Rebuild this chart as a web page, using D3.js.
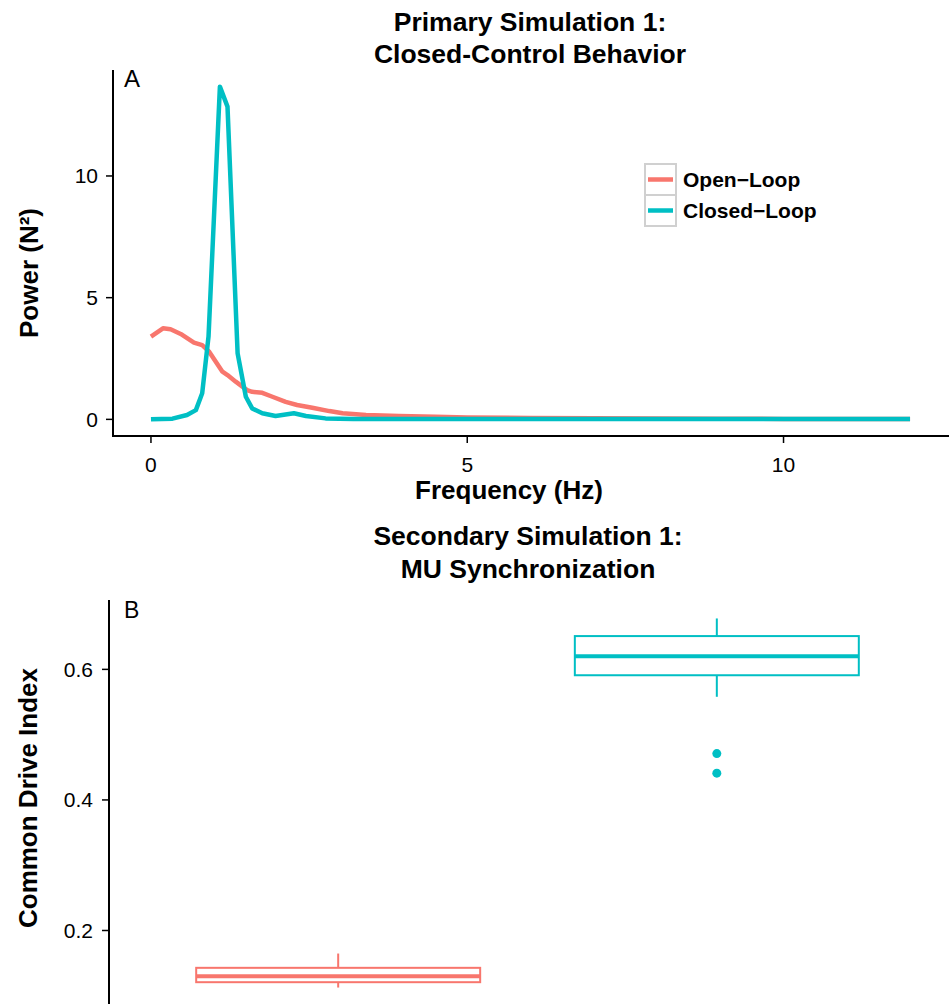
<!DOCTYPE html>
<html>
<head>
<meta charset="utf-8">
<script src="https://cdn.jsdelivr.net/npm/d3@7"></script>
<style>
	body { margin: 0; background: #fff; }
	svg { display: block; font-family: "Liberation Sans", Arial, Helvetica, sans-serif; }
</style>
</head>
<body>
<svg id="chart"></svg>
<script>
// panel A: power spectra (frequency in Hz, power in N^2)
const openFreq  = [0, 0.19, 0.31, 0.47, 0.68, 0.81, 0.92, 1.13, 1.21, 1.34, 1.52, 1.60, 1.76, 1.92, 2.13, 2.31, 2.55, 2.82, 3.03, 3.40, 3.92, 4.5, 5, 6, 7, 8, 9, 10, 11, 12];
const openPower = [3.40, 3.74, 3.70, 3.51, 3.15, 3.05, 2.78, 1.96, 1.82, 1.55, 1.20, 1.13, 1.09, 0.93, 0.72, 0.59, 0.48, 0.34, 0.25, 0.18, 0.14, 0.11, 0.08, 0.06, 0.05, 0.04, 0.03, 0.02, 0.02, 0.02];

const closedFreq  = [0, 0.34, 0.57, 0.71, 0.81, 0.91, 1.09, 1.21, 1.37, 1.50, 1.60, 1.76, 1.97, 2.26, 2.45, 2.76, 3.2, 4, 6, 8, 10, 12];
const closedPower = [0.00, 0.03, 0.18, 0.38, 1.07, 3.40, 13.67, 12.85, 2.71, 0.93, 0.45, 0.25, 0.14, 0.25, 0.14, 0.04, 0.02, 0.02, 0.01, 0.01, 0.01, 0.01];

const seriesNames = ["Open\u2212Loop", "Closed\u2212Loop"];
const seriesColors = ["#F8766D", "#00BFC4"];
const xTicksA = [0, 5, 10];
const yTicksA = [0, 5, 10];

// panel B: common drive index box plots
const groups     = ["Open-Loop", "Closed-Loop"];
const whiskerLow = [0.1126, 0.558];
const q1         = [0.1208, 0.591];
const median     = [0.1300, 0.620];
const q3         = [0.1428, 0.651];
const whiskerHigh= [0.1647, 0.678];
const outliers   = [[], [0.471, 0.441]];
const yTicksB = [0.2, 0.4, 0.6];

const width = 949, height = 1004;

const svg = d3.select("#chart")
	.attr("width", width)
	.attr("height", height);

// ggplot style 5% expansion
function expand(ext, f) {
	let pad = (ext[1] - ext[0]) * f;
	return [ext[0] - pad, ext[1] + pad];
}

// ---------- panel A ----------
const A = {"left": 113, "right": 948, "top": 70, "bottom": 436};

const xA = d3.scaleLinear()
	.domain(expand([0, 12], 0.05))
	.range([A.left, A.right]);

const yA = d3.scaleLinear()
	.domain(expand(d3.extent(openPower.concat(closedPower)), 0.05))
	.range([A.bottom, A.top]);

const seriesA = [
	openFreq.map((f, i) => ({f: f, p: openPower[i]})),
	closedFreq.map((f, i) => ({f: f, p: closedPower[i]}))
];

const line = d3.line()
	.x(d => xA(d.f))
	.y(d => yA(d.p));

svg.selectAll(".spec")
	.data(seriesA)
	.join("path")
	.attr("class", "spec")
	.attr("d", line)
	.attr("fill", "none")
	.attr("stroke", (d, i) => seriesColors[i])
	.attr("stroke-width", 4.5)
	.attr("stroke-linejoin", "round");

// axes drawn by hand to look like the ggplot classic theme
svg.append("line")
	.attr("x1", A.left).attr("x2", A.left)
	.attr("y1", A.top).attr("y2", A.bottom + 1)
	.attr("stroke", "#000").attr("stroke-width", 2);
svg.append("line")
	.attr("x1", A.left - 1).attr("x2", width)
	.attr("y1", A.bottom).attr("y2", A.bottom)
	.attr("stroke", "#000").attr("stroke-width", 2);

svg.selectAll(".ytickA")
	.data(yTicksA)
	.join("line")
	.attr("class", "ytickA")
	.attr("x1", A.left - 7).attr("x2", A.left)
	.attr("y1", d => yA(d)).attr("y2", d => yA(d))
	.attr("stroke", "#000").attr("stroke-width", 1.5);

svg.selectAll(".ylabA")
	.data(yTicksA)
	.join("text")
	.attr("class", "ylabA")
	.text(d => d)
	.attr("x", 98)
	.attr("y", d => yA(d) + 7.5)
	.attr("text-anchor", "end")
	.attr("font-size", 21);

svg.selectAll(".xtickA")
	.data(xTicksA)
	.join("line")
	.attr("class", "xtickA")
	.attr("x1", d => xA(d)).attr("x2", d => xA(d))
	.attr("y1", A.bottom).attr("y2", A.bottom + 7)
	.attr("stroke", "#000").attr("stroke-width", 1.5);

svg.selectAll(".xlabA")
	.data(xTicksA)
	.join("text")
	.attr("class", "xlabA")
	.text(d => d)
	.attr("x", d => xA(d))
	.attr("y", 472)
	.attr("text-anchor", "middle")
	.attr("font-size", 21);

svg.append("text")
	.text("Frequency (Hz)")
	.attr("x", 509).attr("y", 499)
	.attr("text-anchor", "middle")
	.attr("font-size", 26).attr("font-weight", "bold");

svg.append("text")
	.attr("transform", "translate(38, 273) rotate(-90)")
	.attr("text-anchor", "middle")
	.attr("font-size", 26).attr("font-weight", "bold")
	.text("Power (N\u00b2)");

svg.append("text").text("A")
	.attr("x", 124).attr("y", 87)
	.attr("font-size", 24);

svg.selectAll(".titleA")
	.data(["Primary Simulation 1:", "Closed-Control Behavior"])
	.join("text")
	.attr("class", "titleA")
	.text(d => d)
	.attr("x", 530)
	.attr("y", (d, i) => 31 + i * 32)
	.attr("text-anchor", "middle")
	.attr("font-size", 26.5).attr("font-weight", "bold");

// legend
const legend = svg.append("g").attr("transform", "translate(645, 164)");

legend.selectAll("rect")
	.data(seriesNames)
	.join("rect")
	.attr("x", 0).attr("y", (d, i) => i * 31)
	.attr("width", 31).attr("height", 31)
	.attr("fill", "#fff")
	.attr("stroke", "#d0d0d0").attr("stroke-width", 2);

legend.selectAll("line")
	.data(seriesNames)
	.join("line")
	.attr("x1", 3).attr("x2", 28)
	.attr("y1", (d, i) => i * 31 + 15.5).attr("y2", (d, i) => i * 31 + 15.5)
	.attr("stroke", (d, i) => seriesColors[i])
	.attr("stroke-width", 4.5);

legend.selectAll("text")
	.data(seriesNames)
	.join("text")
	.text(d => d)
	.attr("x", 38)
	.attr("y", (d, i) => i * 31 + 23)
	.attr("font-size", 21).attr("font-weight", "bold");

// ---------- panel B ----------
const B = {"left": 109, "right": 944, "top": 600, "bottom": 1006};

const xB = d3.scalePoint()
	.domain(groups)
	.range([B.left + 2, B.right])
	.padding(0.6);

const boxWidth = xB.step() * 0.75;

const yB = d3.scaleLinear()
	.domain(expand([d3.min(whiskerLow), d3.max(whiskerHigh)], 0.05))
	.range([B.bottom, B.top]);

const boxes = groups.map((g, i) => ({
	group: g, color: seriesColors[i],
	lo: whiskerLow[i], q1: q1[i], med: median[i], q3: q3[i], hi: whiskerHigh[i],
	out: outliers[i]
}));

const box = svg.selectAll(".box")
	.data(boxes)
	.join("g")
	.attr("class", "box");

box.append("line")
	.attr("x1", d => xB(d.group)).attr("x2", d => xB(d.group))
	.attr("y1", d => yB(d.hi)).attr("y2", d => yB(d.q3))
	.attr("stroke", d => d.color).attr("stroke-width", 2);

box.append("line")
	.attr("x1", d => xB(d.group)).attr("x2", d => xB(d.group))
	.attr("y1", d => yB(d.q1)).attr("y2", d => yB(d.lo))
	.attr("stroke", d => d.color).attr("stroke-width", 2);

box.append("rect")
	.attr("x", d => xB(d.group) - boxWidth / 2)
	.attr("y", d => yB(d.q3))
	.attr("width", boxWidth)
	.attr("height", d => yB(d.q1) - yB(d.q3))
	.attr("fill", "#fff")
	.attr("stroke", d => d.color).attr("stroke-width", 2);

box.append("line")
	.attr("x1", d => xB(d.group) - boxWidth / 2).attr("x2", d => xB(d.group) + boxWidth / 2)
	.attr("y1", d => yB(d.med)).attr("y2", d => yB(d.med))
	.attr("stroke", d => d.color).attr("stroke-width", 4);

box.selectAll(".outlier")
	.data(d => d.out.map(v => ({v: v, group: d.group, color: d.color})))
	.join("circle")
	.attr("class", "outlier")
	.attr("cx", d => xB(d.group))
	.attr("cy", d => yB(d.v))
	.attr("r", 4.5)
	.attr("fill", d => d.color);

svg.append("line")
	.attr("x1", B.left).attr("x2", B.left)
	.attr("y1", B.top).attr("y2", height)
	.attr("stroke", "#000").attr("stroke-width", 2);

svg.selectAll(".ytickB")
	.data(yTicksB)
	.join("line")
	.attr("class", "ytickB")
	.attr("x1", B.left - 7).attr("x2", B.left)
	.attr("y1", d => yB(d)).attr("y2", d => yB(d))
	.attr("stroke", "#000").attr("stroke-width", 1.5);

svg.selectAll(".ylabB")
	.data(yTicksB)
	.join("text")
	.attr("class", "ylabB")
	.text(d => d.toFixed(1))
	.attr("x", 93)
	.attr("y", d => yB(d) + 7.5)
	.attr("text-anchor", "end")
	.attr("font-size", 21);

svg.append("text")
	.attr("transform", "translate(37, 798) rotate(-90)")
	.attr("text-anchor", "middle")
	.attr("font-size", 26).attr("font-weight", "bold")
	.text("Common Drive Index");

svg.append("text").text("B")
	.attr("x", 124).attr("y", 618)
	.attr("font-size", 23);

svg.selectAll(".titleB")
	.data(["Secondary Simulation 1:", "MU Synchronization"])
	.join("text")
	.attr("class", "titleB")
	.text(d => d)
	.attr("x", 528)
	.attr("y", (d, i) => 545 + i * 33)
	.attr("text-anchor", "middle")
	.attr("font-size", 26.5).attr("font-weight", "bold");
</script>
</body>
</html>
